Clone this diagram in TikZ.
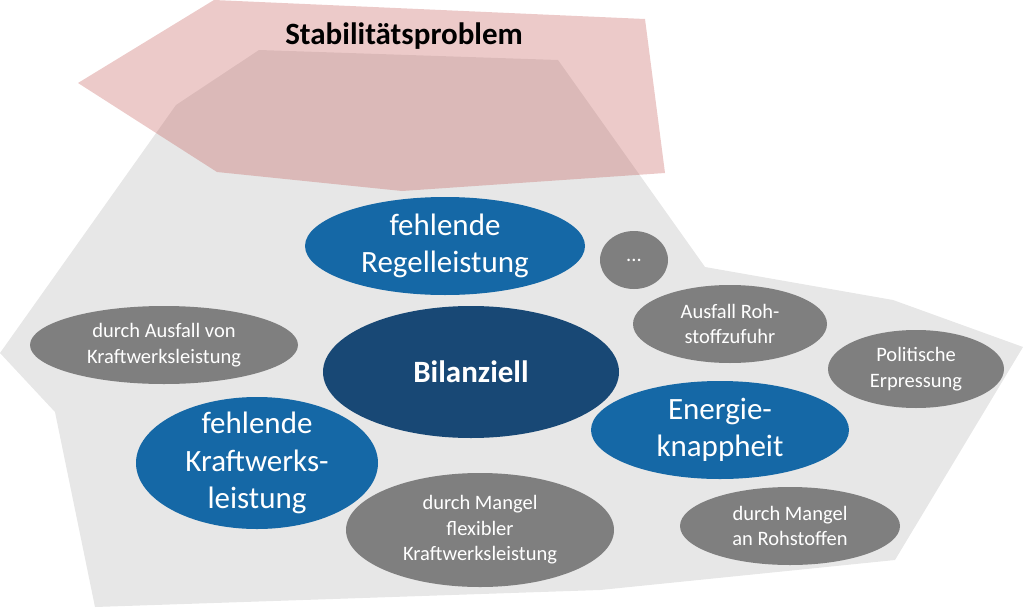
\documentclass[tikz,border=0pt]{standalone}
\usepackage{fontspec}
\setmainfont{Carlito}
\usetikzlibrary{shapes.geometric}
\usetikzlibrary{positioning}

\definecolor{areagray}{RGB}{231,231,231}
\definecolor{stabred}{RGB}{192,80,77}
\definecolor{causegray}{RGB}{127,127,127}
\definecolor{midblue}{RGB}{21,104,166}
\definecolor{darkblue}{RGB}{24,72,117}

\tikzset{
  blob/.style={ellipse, inner sep=-12pt, text=white, align=center},
  cause/.style={blob, fill=causegray, font=\fontsize{20.5}{25.5}\selectfont},
  kind/.style={blob, fill=midblue, font=\fontsize{31}{37.5}\selectfont},
}

\begin{document}
\begin{tikzpicture}[x=1pt,y=-1pt]
    \useasboundingbox (0,0) rectangle (1024,607);
    \fill[areagray] (259,50) -- (558,60) -- (705,267) -- (893,300) -- (1023,347) -- (895,560) -- (600,590) -- (95,607) -- (55,412) -- (0,353) -- (176,105) -- cycle;
    \fill[stabred, opacity=0.3] (214,0) -- (645,19) -- (665,173) -- (402,191) -- (217,172) -- (78,83) -- cycle;
    \node[font=\bfseries\fontsize{31}{36}\selectfont] (stab) at (404,36) {Stabilitätsproblem};
    \node[kind, minimum width=280pt, minimum height=98pt] (regel) at (445,246) {fehlende\\Regelleistung};
    \node[cause, minimum width=68pt, minimum height=58pt] (dots) at (634,260) {...};
    \node[cause, minimum width=194pt, minimum height=78pt] (rohzufuhr) at (730,324) {Ausfall Roh-\\stoffzufuhr};
    \node[cause, minimum width=176pt, minimum height=78pt] (erpressung) at (916,369) {Politische\\Erpressung};
    \node[kind, minimum width=258pt, minimum height=98pt] (energie) at (720,430) {Energie-\\knappheit};
    \node[cause, minimum width=220pt, minimum height=78pt] (rohstoff) at (790,526) {durch Mangel\\an Rohstoffen};
    \node[cause, minimum width=268pt, minimum height=78pt] (ausfall) at (164,345) {durch Ausfall von\\Kraftwerksleistung};
    \node[blob, fill=darkblue, font=\bfseries\fontsize{31}{36}\selectfont, minimum width=296pt, minimum height=132pt] (bilanz) at (471,372) {Bilanziell};
    \node[kind, minimum width=242pt, minimum height=132pt] (kraft) at (257,463) {fehlende\\Kraftwerks-\\leistung};
    \node[cause, minimum width=268pt, minimum height=114pt] (flex) at (480,530) {durch Mangel\\flexibler\\Kraftwerksleistung};
\end{tikzpicture}
\end{document}
